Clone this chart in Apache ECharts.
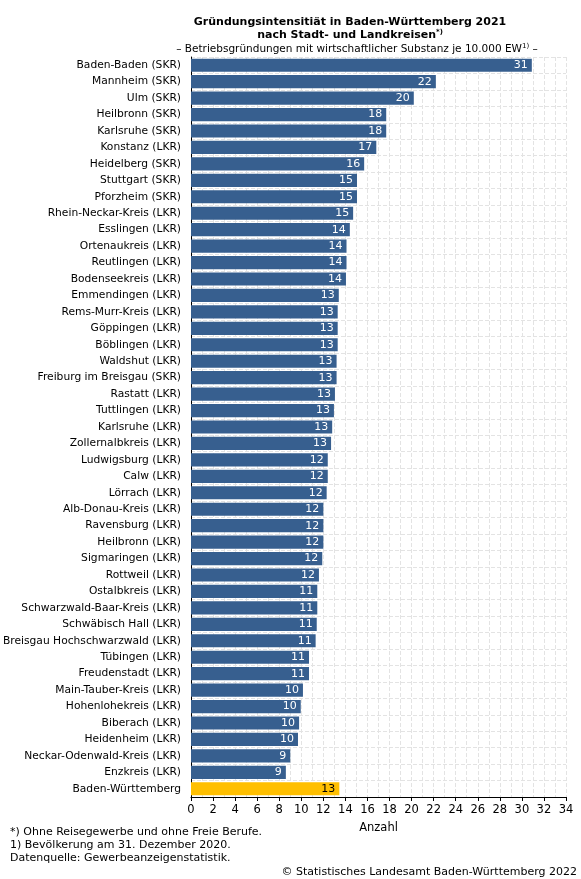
<!DOCTYPE html>
<html>
<head>
<meta charset="utf-8">
<script src="https://cdn.jsdelivr.net/npm/echarts@6/dist/echarts.min.js"></script>
<style>
html,body{margin:0;padding:0;background:#fff;}
#chart{width:581px;height:879px;}
</style>
</head>
<body>
<div id="chart"></div>
<script>
const categories = [
  "Baden-Baden (SKR)","Mannheim (SKR)","Ulm (SKR)","Heilbronn (SKR)","Karlsruhe (SKR)",
  "Konstanz (LKR)","Heidelberg (SKR)","Stuttgart (SKR)","Pforzheim (SKR)","Rhein-Neckar-Kreis (LKR)",
  "Esslingen (LKR)","Ortenaukreis (LKR)","Reutlingen (LKR)","Bodenseekreis (LKR)","Emmendingen (LKR)",
  "Rems-Murr-Kreis (LKR)","Göppingen (LKR)","Böblingen (LKR)","Waldshut (LKR)","Freiburg im Breisgau (SKR)",
  "Rastatt (LKR)","Tuttlingen (LKR)","Karlsruhe (LKR)","Zollernalbkreis (LKR)","Ludwigsburg (LKR)",
  "Calw (LKR)","Lörrach (LKR)","Alb-Donau-Kreis (LKR)","Ravensburg (LKR)","Heilbronn (LKR)",
  "Sigmaringen (LKR)","Rottweil (LKR)","Ostalbkreis (LKR)","Schwarzwald-Baar-Kreis (LKR)","Schwäbisch Hall (LKR)",
  "Breisgau Hochschwarzwald (LKR)","Tübingen (LKR)","Freudenstadt (LKR)","Main-Tauber-Kreis (LKR)","Hohenlohekreis (LKR)",
  "Biberach (LKR)","Heidenheim (LKR)","Neckar-Odenwald-Kreis (LKR)","Enzkreis (LKR)","Baden-Württemberg"
];
const values = [
  30.9, 22.2, 20.2, 17.7, 17.7,
  16.8, 15.7, 15.05, 15.05, 14.7,
  14.4, 14.1, 14.1, 14.05, 13.4,
  13.3, 13.3, 13.3, 13.2, 13.2,
  13.05, 12.96, 12.8, 12.7, 12.4,
  12.4, 12.3, 12.0, 12.0, 12.0,
  11.9, 11.6, 11.45, 11.45, 11.4,
  11.3, 10.7, 10.7, 10.15, 9.95,
  9.8, 9.7, 9.0, 8.6, 13.45
];
const highlightCategory = "Baden-Württemberg";
const xTicks = { min: 0, max: 34, interval: 2 };

const FONT = "DejaVu Sans";
const BLUE = "#375f8f";
const YELLOW = "#ffbf00";

const chart = echarts.init(document.getElementById('chart'), null, {renderer: 'canvas'});
chart.setOption({
  animation: false,
  backgroundColor: '#fff',
  textStyle: { fontFamily: FONT },
  title: [
    {
      text: '{b|Gründungsintensitiät in Baden-Württemberg 2021}\n{b|nach Stadt- und Landkreisen}{s|*)}',
      left: 345, top: 11, textAlign: 'center',
      textStyle: {
        rich: {
          b: { fontFamily: FONT, fontWeight: 'bold', fontSize: 11, color: '#000', lineHeight: 13 },
          s: { fontFamily: FONT, fontWeight: 'bold', fontSize: 7, color: '#000', lineHeight: 13, verticalAlign: 'top', padding: [0,0,4,0] }
        }
      }
    },
    {
      text: '{n|– Betriebsgründungen mit wirtschaftlicher Substanz je 10.000 EW}{s|1)}{n| –}',
      left: 352, top: 38, textAlign: 'center',
      textStyle: {
        fontWeight: 'normal',
        rich: {
          n: { fontFamily: FONT, fontWeight: 'normal', fontSize: 10.5, color: '#000', lineHeight: 13 },
          s: { fontFamily: FONT, fontWeight: 'normal', fontSize: 7, color: '#000', lineHeight: 13, verticalAlign: 'top', padding: [0,0,4,0] }
        }
      }
    }
  ],
  grid: { left: 191, right: 15, top: 57, bottom: 82, containLabel: false, outerBoundsMode: 'none' },
  xAxis: {
    type: 'value',
    min: xTicks.min, max: xTicks.max, interval: xTicks.interval,
    name: 'Anzahl', nameLocation: 'middle', nameGap: 25,
    nameTextStyle: { fontFamily: FONT, fontSize: 11.5, color: '#000' },
    axisLine: { show: true, lineStyle: { color: '#000', width: 1 } },
    axisTick: { show: true, length: 4, lineStyle: { color: '#000' } },
    axisLabel: { fontFamily: FONT, fontSize: 11.5, color: '#000', margin: 7 },
    splitLine: { show: true, lineStyle: { color: '#e3e3e3', type: [4, 2], width: 1 } },
    minorTick: { show: false, splitNumber: 2 },
    minorSplitLine: { show: true, lineStyle: { color: '#e3e3e3', type: [4, 2], width: 1 } }
  },
  yAxis: {
    type: 'category',
    data: categories,
    inverse: true,
    axisLine: { show: true, lineStyle: { color: '#000', width: 1 } },
    axisTick: { show: false },
    axisLabel: { fontFamily: FONT, fontSize: 10.7, color: '#000', margin: 10 },
    splitLine: { show: true, lineStyle: { color: '#e3e3e3', type: [4, 2], width: 1 } }
  },
  series: [{
    type: 'bar',
    barCategoryGap: '20%',
    data: values.map((v, i) => ({
      value: v,
      itemStyle: { color: categories[i] === highlightCategory ? YELLOW : BLUE },
      label: { color: categories[i] === highlightCategory ? '#000' : '#fff' }
    })),
    label: {
      show: true, position: 'insideRight', distance: 4,
      fontFamily: FONT, fontSize: 11,
      formatter: p => String(Math.round(p.value))
    }
  }],
  graphic: [
    { type: 'text', left: 10, top: 827, style: { text: '*) Ohne Reisegewerbe und ohne Freie Berufe.', font: '11px "DejaVu Sans"', fill: '#000' } },
    { type: 'text', left: 10, top: 840, style: { text: '1) Bevölkerung am 31. Dezember 2020.', font: '11px "DejaVu Sans"', fill: '#000' } },
    { type: 'text', left: 10, top: 853, style: { text: 'Datenquelle: Gewerbeanzeigenstatistik.', font: '11px "DejaVu Sans"', fill: '#000' } },
    { type: 'text', right: 4, top: 867, style: { text: '© Statistisches Landesamt Baden-Württemberg 2022', font: '11px "DejaVu Sans"', fill: '#000' } }
  ]
});
</script>
</body>
</html>
